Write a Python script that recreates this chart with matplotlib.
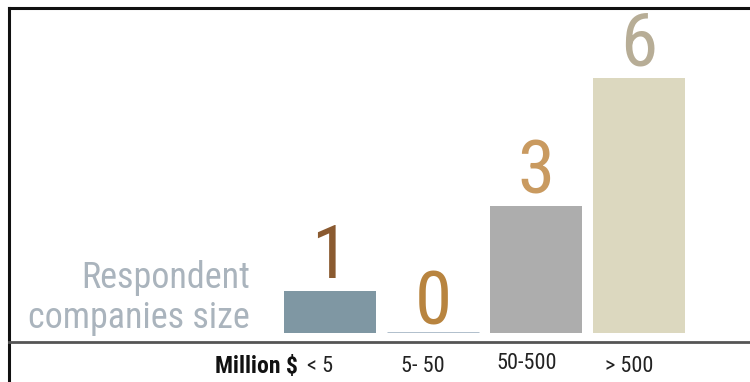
import matplotlib
matplotlib.use("Agg")
import matplotlib.pyplot as plt
from matplotlib.lines import Line2D

categories = ["< 5", "5- 50", "50-500", "> 500"]
counts = [1, 0, 3, 6]
bar_colors = ["#7f97a3", "#a9b9c8", "#adadad", "#dcd8bf"]
label_colors = ["#8a5a30", "#b8843f", "#c99a60", "#b7ad96"]
unit_label = "Million $"
side_title = "Respondent\ncompanies size"

plt.rcParams["font.family"] = ["Roboto Condensed", "Archivo Narrow", "DejaVu Sans"]

W, H = 750, 382
fig = plt.figure(figsize=(W / 100, H / 100), dpi=100)
fig.patch.set_facecolor("white")

# plot area: categories -0.5..3.5 span px 278.5..690.5, values 0..7 span px 333..35.5 (from top)
ax = fig.add_axes([278.5 / W, 49 / H, 412 / W, 297.5 / H])
ax.set_xlim(-0.5, 3.5)
ax.set_ylim(0, 7)
ax.axis("off")

x = list(range(len(categories)))
edge = [c if v == 0 else "none" for c, v in zip(bar_colors, counts)]
lw = [2.0 if v == 0 else 0 for v in counts]
ax.bar(x, counts, width=0.893, color=bar_colors, edgecolor=edge, linewidth=lw)

for xi, v, c in zip(x, counts, label_colors):
    off = -5 if v == 0 else -2
    ax.annotate(str(v), (xi, v), xytext=(0, off), textcoords="offset points",
                ha="center", va="bottom", fontsize=54, color=c, clip_on=False)

# category labels under the baseline
for xi, lab in zip(x, categories):
    dy = 2 if lab == "50-500" else 0
    ax.annotate(lab, (xi, 0), xytext=(-7, -24 + dy), textcoords="offset points",
                ha="center", va="center", fontsize=16, color="#222222",
                annotation_clip=False)

fig.text(298 / W, 1 - 366 / H, unit_label, ha="right", va="center",
         fontsize=17, color="#111111", fontweight="bold")
fig.text(250 / W, 1 - 298 / H, side_title, ha="right", va="center",
         fontsize=26, color="#aab4bd", linespacing=1.12)

# frame lines
fig.add_artist(Line2D([9 / W, 1], [1 - 8 / H, 1 - 8 / H], color="#111111", lw=2.2))
fig.add_artist(Line2D([9 / W, 9 / W], [0, 1 - 8 / H], color="#111111", lw=2.2))
fig.add_artist(Line2D([9 / W, 1], [1 - 342 / H, 1 - 342 / H], color="#555555", lw=2.0))

fig.savefig("out.png", dpi=100, facecolor="white")
